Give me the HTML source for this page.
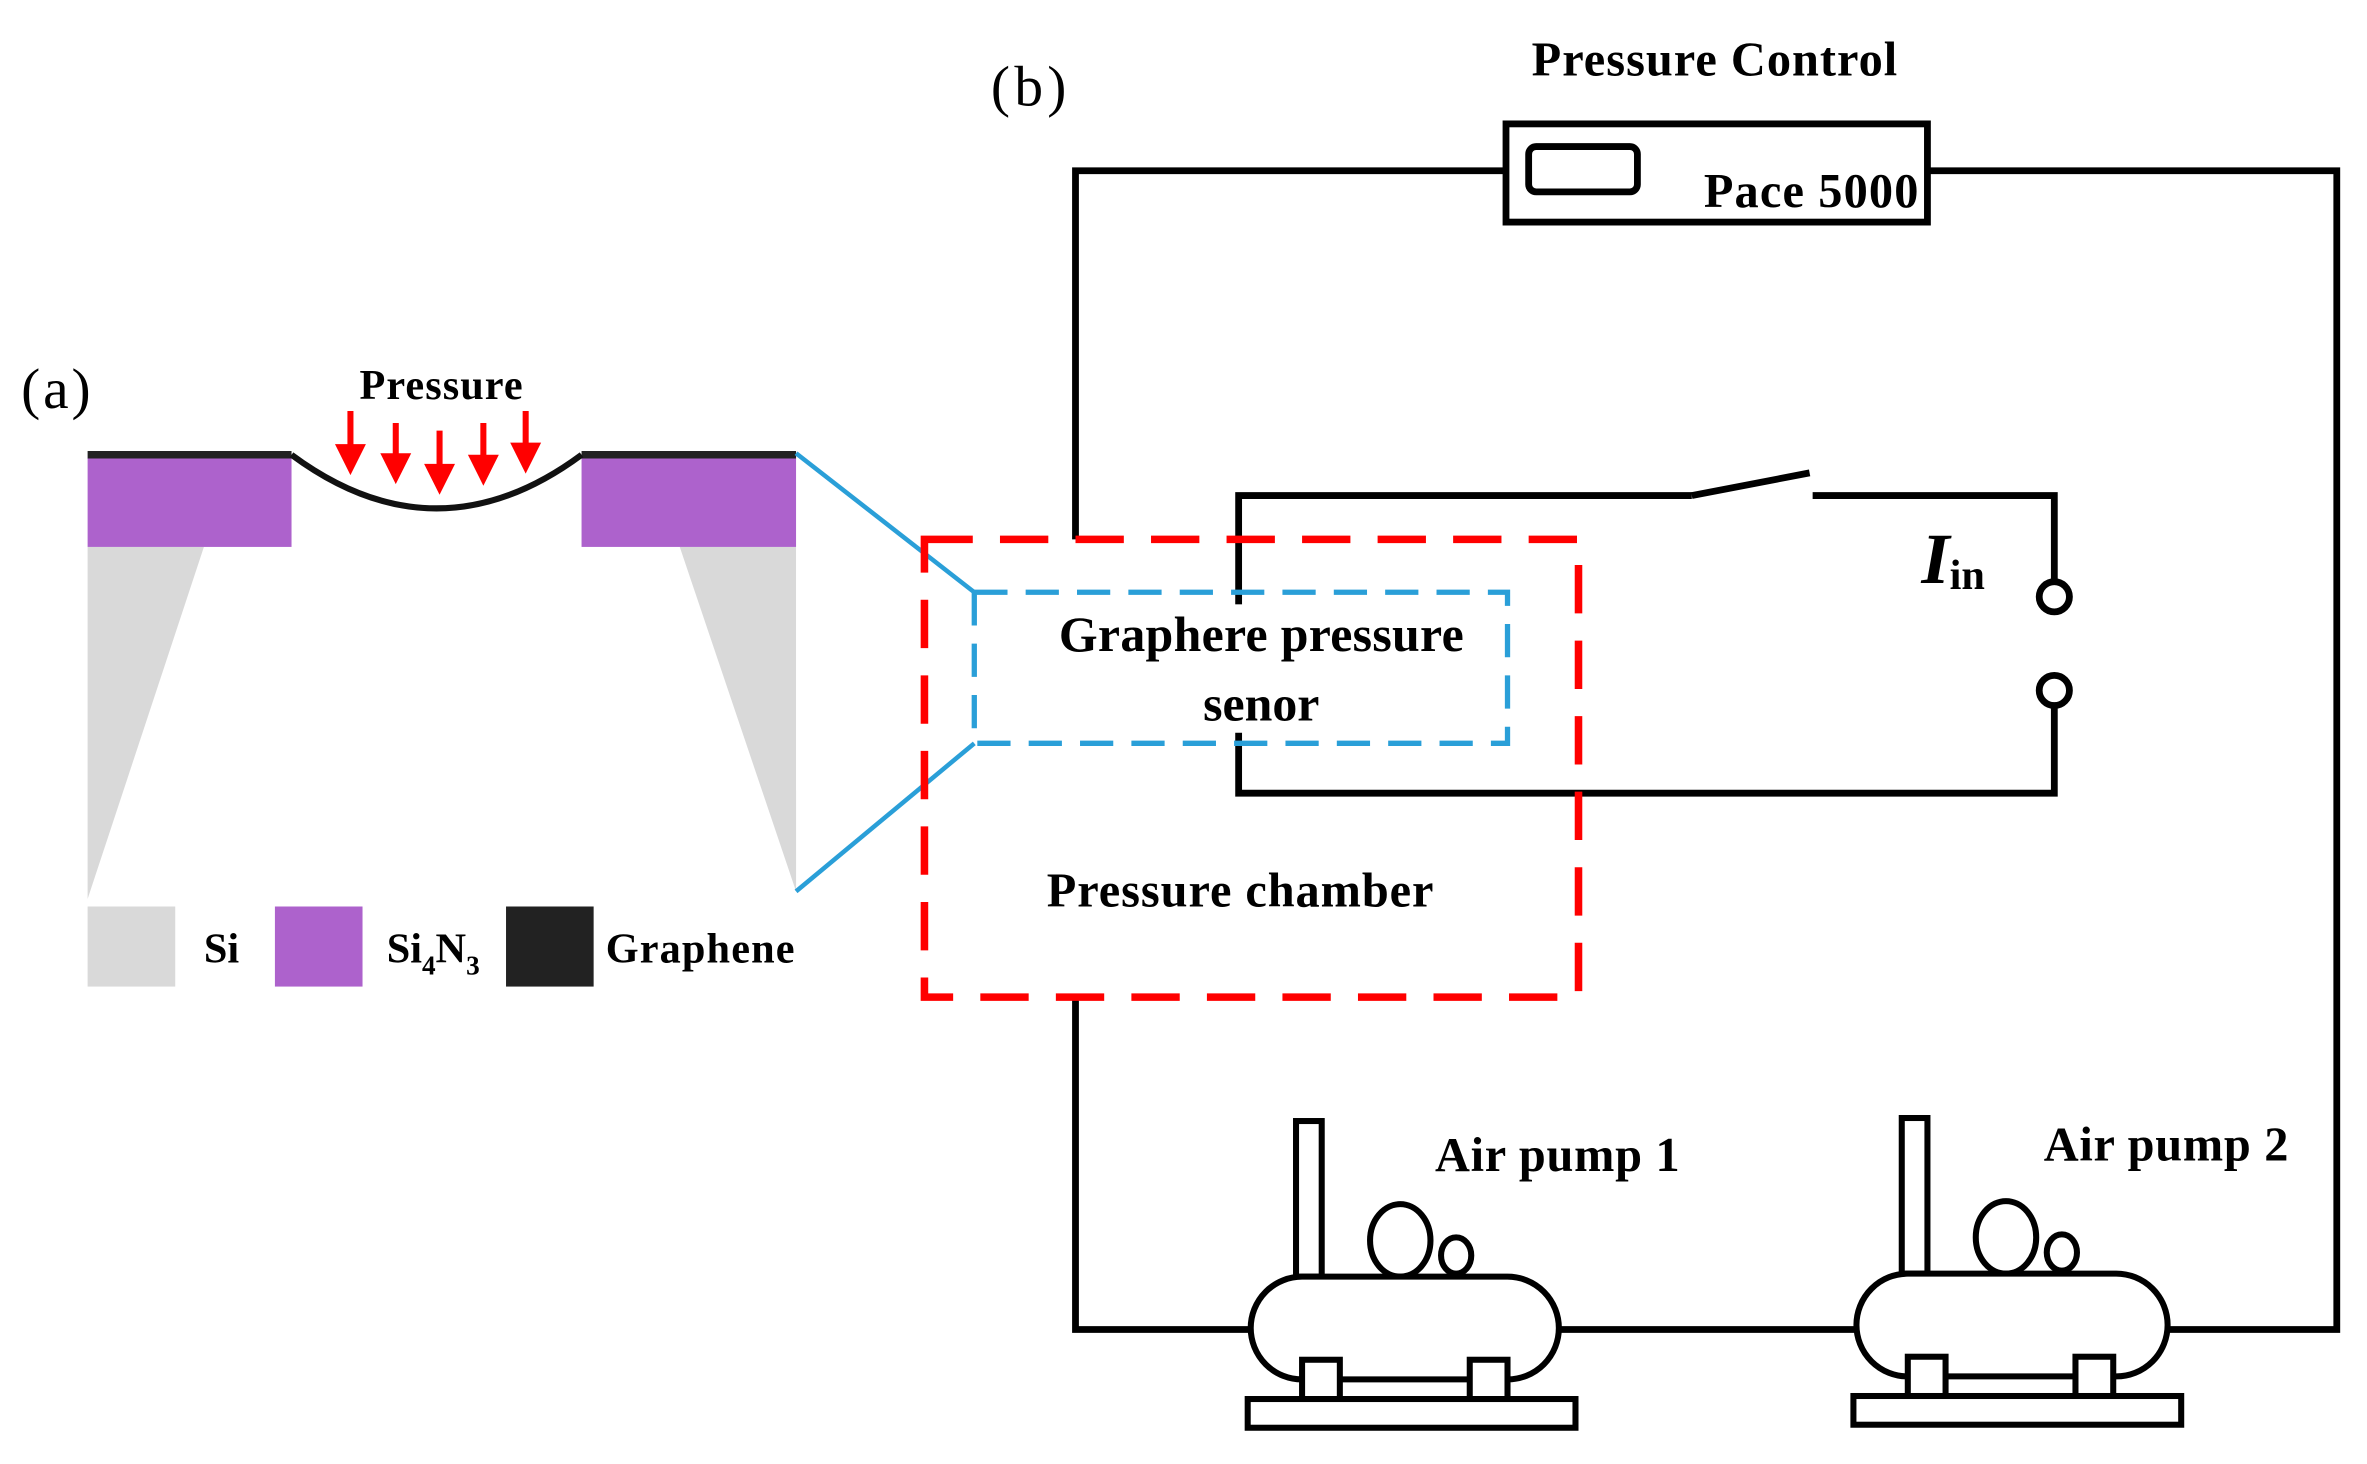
<!DOCTYPE html>
<html><head><style>html,body{margin:0;padding:0;background:#fff}svg{display:block}</style></head>
<body>
<svg width="2367" height="1464" viewBox="0 0 1567 969" preserveAspectRatio="none" xmlns="http://www.w3.org/2000/svg" font-family="Liberation Serif, serif">
<rect width="1570" height="970" fill="#fff"/>
<text x="14" y="270" font-size="38" textLength="46">(a)</text>
<polygon points="58,362 135,362 58,595" fill="#d9d9d9"/>
<polygon points="450,362 527,362 527,590" fill="#d9d9d9"/>
<rect x="58" y="303" width="135" height="59" fill="#ad62cc"/>
<rect x="385" y="303" width="142" height="59" fill="#ad62cc"/>
<line x1="58" y1="301" x2="193" y2="301" stroke="#222" stroke-width="5"/>
<line x1="385" y1="301" x2="527" y2="301" stroke="#222" stroke-width="5"/>
<path d="M193,301 Q289,372 385,301" fill="none" stroke="#111" stroke-width="4"/>
<text x="292" y="264" font-size="28" font-weight="bold" text-anchor="middle" textLength="108">Pressure</text>
<g stroke="#f00" stroke-width="4" fill="#f00">
<line x1="232" y1="272" x2="232" y2="298"/><polygon points="225,296 239,296 232,310"/>
<line x1="262" y1="280" x2="262" y2="304"/><polygon points="255,302 269,302 262,316"/>
<line x1="291" y1="285" x2="291" y2="311"/><polygon points="284,309 298,309 291,323"/>
<line x1="320" y1="280" x2="320" y2="305"/><polygon points="313,303 327,303 320,317"/>
<line x1="348" y1="272" x2="348" y2="297"/><polygon points="341,295 355,295 348,309"/>
</g>
<rect x="58" y="600" width="58" height="53" fill="#d9d9d9"/>
<text x="135" y="637" font-size="28" font-weight="bold">Si</text>
<rect x="182" y="600" width="58" height="53" fill="#ad62cc"/>
<text x="256" y="637" font-size="28" font-weight="bold">Si<tspan font-size="18" dy="8">4</tspan><tspan dy="-8">N</tspan><tspan font-size="18" dy="8">3</tspan></text>
<rect x="335" y="600" width="58" height="53" fill="#222"/>
<text x="401" y="637" font-size="28" font-weight="bold" textLength="125">Graphene</text>
<polyline points="527,300 645,392" fill="none" stroke="#2a9fd8" stroke-width="3"/>
<polyline points="527,590 645,492" fill="none" stroke="#2a9fd8" stroke-width="3"/>
<text x="656" y="70" font-size="38" textLength="50">(b)</text>
<text x="1135" y="50" font-size="32" font-weight="bold" text-anchor="middle" textLength="242">Pressure Control</text>
<g fill="none" stroke="#000" stroke-width="4.5">
<rect x="997" y="82" width="279" height="65"/>
<rect x="1012" y="97" width="72" height="30" rx="5"/>
<polyline points="997,113 712,113 712,357"/>
<polyline points="1276,113 1547,113 1547,880 1435,880"/>
<polyline points="712,660 712,880 828,880"/>
<line x1="1032" y1="880" x2="1228" y2="880"/>
<polyline points="1120,328 820,328 820,525 1360,525 1360,467"/>
<line x1="1120" y1="328" x2="1198" y2="313"/>
<polyline points="1200,328 1360,328 1360,385"/>
<circle cx="1360" cy="395" r="10" fill="#fff"/>
<circle cx="1360" cy="457" r="10" fill="#fff"/>
</g>
<text x="1128" y="137" font-size="32" font-weight="bold" textLength="142">Pace 5000</text>
<text x="1272" y="386" font-size="48" font-weight="bold" font-style="italic">I<tspan font-size="28" font-style="normal" dy="4">in</tspan></text>
<rect x="612" y="357" width="433" height="303" fill="none" stroke="#f00" stroke-width="5" stroke-dasharray="32,18"/>
<rect x="645" y="392" width="353" height="100" fill="none" stroke="#2a9fd8" stroke-width="3.5" stroke-dasharray="22,12"/>
<rect x="700" y="400" width="270" height="85" fill="#fff"/>
<text x="835" y="431" font-size="33" font-weight="bold" text-anchor="middle" textLength="268">Graphere pressure</text>
<text x="835" y="477" font-size="33" font-weight="bold" text-anchor="middle">senor</text>
<text x="821" y="600" font-size="32" font-weight="bold" text-anchor="middle" textLength="256">Pressure chamber</text>
<g fill="#fff" stroke="#000" stroke-width="4">
<rect x="858" y="742" width="17" height="103"/>
<ellipse cx="927" cy="821" rx="20" ry="24"/>
<ellipse cx="964" cy="831" rx="10" ry="12"/>
<rect x="828" y="845" width="204" height="68" rx="34" ry="34"/>
<rect x="862" y="900" width="25" height="26"/>
<rect x="973" y="900" width="25" height="26"/>
<rect x="826" y="926" width="217" height="19"/>
</g>
<g fill="#fff" stroke="#000" stroke-width="4" transform="translate(401,-2)">
<rect x="858" y="742" width="17" height="103"/>
<ellipse cx="927" cy="821" rx="20" ry="24"/>
<ellipse cx="964" cy="831" rx="10" ry="12"/>
<rect x="828" y="845" width="206" height="68" rx="34" ry="34"/>
<rect x="862" y="900" width="25" height="26"/>
<rect x="973" y="900" width="25" height="26"/>
<rect x="826" y="926" width="217" height="19"/>
</g>
<text x="950" y="775" font-size="32" font-weight="bold" textLength="162">Air pump 1</text>
<text x="1353" y="768" font-size="32" font-weight="bold" textLength="162">Air pump 2</text>
</svg>
</body></html>
